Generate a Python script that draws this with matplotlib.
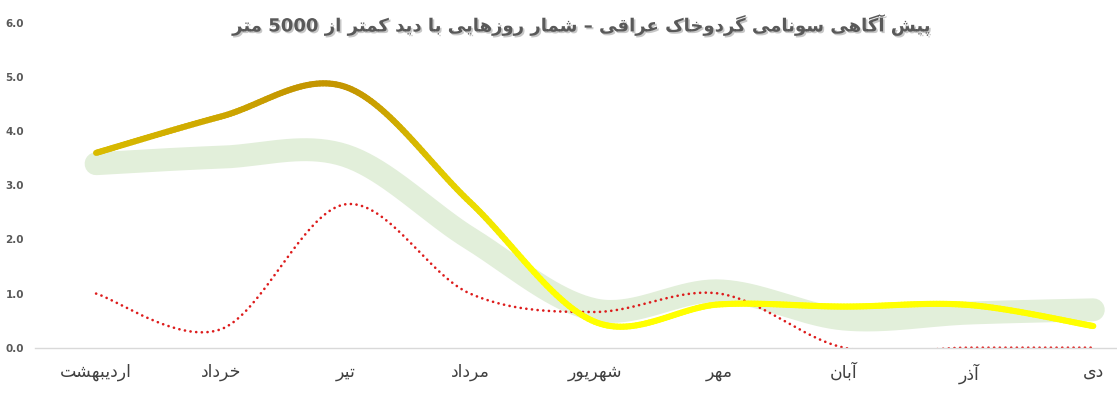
import re
import matplotlib
matplotlib.use("Agg")
import matplotlib.pyplot as plt
import matplotlib.patheffects as pe
from matplotlib.bezier import BezierSegment
from matplotlib.collections import LineCollection
import numpy as np

# data
months = ["اردیبهشت", "خرداد", "تیر", "مرداد", "شهریور", "مهر", "آبان", "آذر", "دی"]
gold_vals = [3.60, 4.27, 4.82, 2.69, 0.48, 0.80, 0.76, 0.79, 0.40]
green_vals = [3.40, 3.52, 3.55, 2.02, 0.70, 1.05, 0.53, 0.64, 0.70]
red_vals = [1.00, 0.34, 2.65, 1.00, 0.66, 1.00, 0.00, 0.00, 0.00]
yticks = [0, 1, 2, 3, 4, 5, 6]
title = "پیش آگاهی سونامی گردوخاک عراقی – شمار روزهایی با دید کمتر از 5000 متر"

# matplotlib does no arabic shaping / bidi, so do it by hand with presentation forms
FORMS = {
    'ا': ('\uFE8D', '\uFE8E', None, None),
    'آ': ('\uFE81', '\uFE82', None, None),
    'ب': ('\uFE8F', '\uFE90', '\uFE91', '\uFE92'),
    'پ': ('\uFB56', '\uFB57', '\uFB58', '\uFB59'),
    'ت': ('\uFE95', '\uFE96', '\uFE97', '\uFE98'),
    'خ': ('\uFEA5', '\uFEA6', '\uFEA7', '\uFEA8'),
    'د': ('\uFEA9', '\uFEAA', None, None),
    'ذ': ('\uFEAB', '\uFEAC', None, None),
    'ر': ('\uFEAD', '\uFEAE', None, None),
    'ز': ('\uFEAF', '\uFEB0', None, None),
    'س': ('\uFEB1', '\uFEB2', '\uFEB3', '\uFEB4'),
    'ش': ('\uFEB5', '\uFEB6', '\uFEB7', '\uFEB8'),
    'ع': ('\uFEC9', '\uFECA', '\uFECB', '\uFECC'),
    'ق': ('\uFED5', '\uFED6', '\uFED7', '\uFED8'),
    'ک': ('\uFB8E', '\uFB8F', '\uFB90', '\uFB91'),
    'گ': ('\uFB92', '\uFB93', '\uFB94', '\uFB95'),
    'م': ('\uFEE1', '\uFEE2', '\uFEE3', '\uFEE4'),
    'ن': ('\uFEE5', '\uFEE6', '\uFEE7', '\uFEE8'),
    'ه': ('\uFEE9', '\uFEEA', '\uFEEB', '\uFEEC'),
    'و': ('\uFEED', '\uFEEE', None, None),
    'ی': ('\uFBFC', '\uFBFD', '\uFBFE', '\uFBFF'),
}


def shape(s):
    out = []
    for i, ch in enumerate(s):
        f = FORMS.get(ch)
        if f is None:
            out.append(ch)
            continue
        prev = s[i - 1] if i > 0 else ''
        nxt = s[i + 1] if i + 1 < len(s) else ''
        jp = prev in FORMS and FORMS[prev][2] is not None
        jn = f[2] is not None and nxt in FORMS
        if jp and jn:
            out.append(f[3])
        elif jp:
            out.append(f[1])
        elif jn:
            out.append(f[2])
        else:
            out.append(f[0])
    vis = ''.join(out)[::-1]
    return re.sub(r'[0-9]+', lambda m: m.group(0)[::-1], vis)


def smooth(vals, n=40):
    # excel style smoothed line: catmull-rom as cubic bezier segments
    x = np.arange(len(vals), dtype=float)
    y = np.asarray(vals, dtype=float)
    pts = np.column_stack([x, y])
    out = []
    for i in range(len(pts) - 1):
        p0 = pts[max(i - 1, 0)]
        p1 = pts[i]
        p2 = pts[i + 1]
        p3 = pts[min(i + 2, len(pts) - 1)]
        seg = BezierSegment(np.array([p1, p1 + (p2 - p0) / 6, p2 - (p3 - p1) / 6, p2]))
        out.append(seg(np.linspace(0, 1, n)))
    return np.vstack(out)


plt.rcParams['font.family'] = ['DejaVu Sans']

fig = plt.figure(figsize=(11.17, 3.96), dpi=100)
ax = fig.add_axes([35 / 1117, 48.3 / 396, 1082 / 1117, 324.7 / 396])

# green wide band
g = smooth(green_vals)
ax.plot(g[:, 0], g[:, 1], color='#e2efda', lw=16.5, solid_capstyle='round', zorder=1)

# red dotted
r = smooth(red_vals)
ax.plot(r[:, 0], r[:, 1], color='#dd1c1c', lw=1.9, linestyle=(0, (0.05, 2.1)),
        dash_capstyle='round', zorder=2)

# gold -> yellow gradient line
p = smooth(gold_vals)
segs = np.stack([p[:-1], p[1:]], axis=1)
ym = (p[:-1, 1] + p[1:, 1]) / 2
t = np.clip((4.8 - ym) / 3.3, 0, 1)
cols = np.column_stack([(196 + 59 * t) / 255, (150 + 105 * t) / 255, np.zeros_like(t)])
lc = LineCollection(segs, colors=cols, linewidths=4.4, capstyle='round', zorder=3)
ax.add_collection(lc)

ax.set_xlim(-0.49, 8.19)
ax.set_ylim(0, 6)
ax.set_xticks(range(len(months)))
ax.set_xticklabels([shape(m) for m in months], fontsize=12.5, color='#404040')
ax.set_yticks(yticks)
ax.set_yticklabels(['%.1f' % v for v in yticks], fontsize=7.5, color='#595959', fontweight='bold')
ax.tick_params(axis='both', length=0)
ax.tick_params(axis='x', pad=11)
ax.tick_params(axis='y', pad=8)
for s in ['top', 'right', 'left']:
    ax.spines[s].set_visible(False)
ax.spines['bottom'].set_color('#d9d9d9')
ax.spines['bottom'].set_linewidth(1.0)

fig.text(0.52, 0.937, shape(title), ha='center', va='center', fontsize=13, fontweight='bold',
         color='#595959',
         path_effects=[pe.withSimplePatchShadow(offset=(1.2, -1.2), shadow_rgbFace='#b0b0b0', alpha=0.7)])

fig.savefig('out.png', dpi=100)
